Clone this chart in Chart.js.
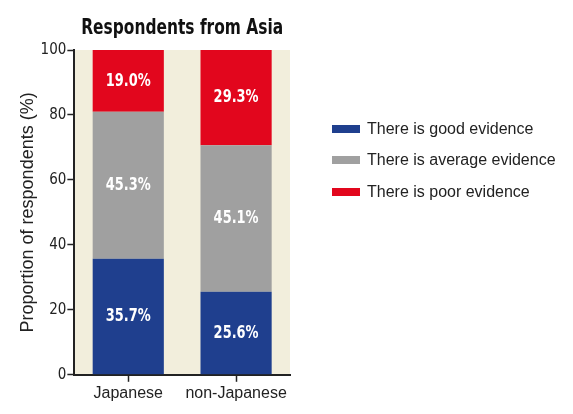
<!DOCTYPE html>
<html>
<head>
<meta charset="utf-8">
<script src="https://cdn.jsdelivr.net/npm/chart.js@4"></script>
<style>
  body { margin: 0; background: #fff; }
  #wrap { position: relative; width: 573px; height: 414px; }
  #legend { position: absolute; left: 332px; top: 113px; font: 16px "Liberation Sans", Arial, sans-serif; color: #222; }
  #legend div { height: 31.5px; display: flex; align-items: center; }
  #legend span.box { display: inline-block; width: 28px; height: 8px; margin-right: 7px; }
</style>
</head>
<body>
<div id="wrap">
  <canvas id="asiaChart" width="573" height="414"></canvas>
  <div id="legend"></div>
</div>
<script>
// Respondents from Asia, stacked shares
const groups = ['Japanese', 'non-Japanese'];
const goodEvidence = [35.7, 25.6];
const averageEvidence = [45.3, 45.1];
const poorEvidence = [19.0, 29.3];
const yTicks = [0, 20, 40, 60, 80, 100];
const chartTitle = 'Respondents from Asia';

const narrow = '"Liberation Sans Narrow", "DejaVu Sans Condensed", sans-serif';
const plain = '"Liberation Sans", Arial, sans-serif';

const series = [
  { label: 'There is good evidence', data: goodEvidence, color: '#1f3f8e' },
  { label: 'There is average evidence', data: averageEvidence, color: '#a0a0a0' },
  { label: 'There is poor evidence', data: poorEvidence, color: '#e2061d' }
];

// squeeze text horizontally to get a narrow look
function narrowText(ctx, text, x, y, squeeze) {
  ctx.save();
  ctx.translate(x, y);
  ctx.scale(squeeze, 1);
  ctx.fillText(text, 0, 0);
  ctx.restore();
}

// beige plot background
const plotBg = {
  id: 'plotBg',
  beforeDraw(chart) {
    const { ctx, chartArea: a } = chart;
    ctx.save();
    ctx.fillStyle = '#f2eedc';
    ctx.fillRect(a.left, a.top, a.right - a.left, a.bottom - a.top);
    ctx.restore();
  }
};

// title centred over the plot area
const plotTitle = {
  id: 'plotTitle',
  afterDraw(chart) {
    const { ctx, chartArea: a } = chart;
    ctx.save();
    ctx.fillStyle = '#111';
    ctx.font = 'bold 22px ' + narrow;
    ctx.textAlign = 'center';
    ctx.textBaseline = 'middle';
    narrowText(ctx, chartTitle, (a.left + a.right) / 2, 28, 0.78);
    ctx.restore();
  }
};

// percentage text in the middle of each segment
const segLabels = {
  id: 'segLabels',
  afterDatasetsDraw(chart) {
    const ctx = chart.ctx;
    ctx.save();
    ctx.fillStyle = '#fff';
    ctx.font = 'bold 18px ' + narrow;
    ctx.textAlign = 'center';
    ctx.textBaseline = 'middle';
    chart.data.datasets.forEach((ds, i) => {
      chart.getDatasetMeta(i).data.forEach((bar, j) => {
        narrowText(ctx, ds.data[j].toFixed(1) + '%', bar.x, (bar.y + bar.base) / 2, 0.8);
      });
    });
    ctx.restore();
  }
};

new Chart(document.getElementById('asiaChart'), {
  type: 'bar',
  data: {
    labels: groups,
    datasets: series.map(s => ({
      label: s.label,
      data: s.data,
      backgroundColor: s.color,
      barPercentage: 0.66,
      categoryPercentage: 1
    }))
  },
  options: {
    responsive: false,
    animation: false,
    layout: { padding: { top: 50, right: 283, left: 17, bottom: 9 } },
    plugins: {
      legend: { display: false },
      tooltip: { enabled: false }
    },
    scales: {
      x: {
        stacked: true,
        border: { color: '#222', width: 2 },
        grid: { display: true, drawOnChartArea: false, offset: false, tickLength: 7, color: '#222', tickWidth: 1.5 },
        ticks: { color: '#222', font: { family: plain, size: 16 }, padding: 2, maxRotation: 0, autoSkip: false }
      },
      y: {
        stacked: true,
        min: 0,
        max: 100,
        afterBuildTicks(scale) { scale.ticks = yTicks.map(v => ({ value: v })); },
        border: { color: '#222', width: 2 },
        grid: { display: true, drawOnChartArea: false, tickLength: 7, color: '#222', tickWidth: 1.5 },
        ticks: { color: '#222', font: { family: narrow, size: 15 }, padding: 1 },
        title: {
          display: true,
          text: 'Proportion of respondents (%)',
          color: '#222',
          font: { family: plain, size: 18 },
          padding: { top: 0, bottom: 1 }
        }
      }
    }
  },
  plugins: [plotBg, plotTitle, segLabels]
});

// legend list on the right
const legend = document.getElementById('legend');
series.forEach(s => {
  const row = document.createElement('div');
  const box = document.createElement('span');
  box.className = 'box';
  box.style.background = s.color;
  row.appendChild(box);
  row.appendChild(document.createTextNode(s.label));
  legend.appendChild(row);
});
</script>
</body>
</html>
